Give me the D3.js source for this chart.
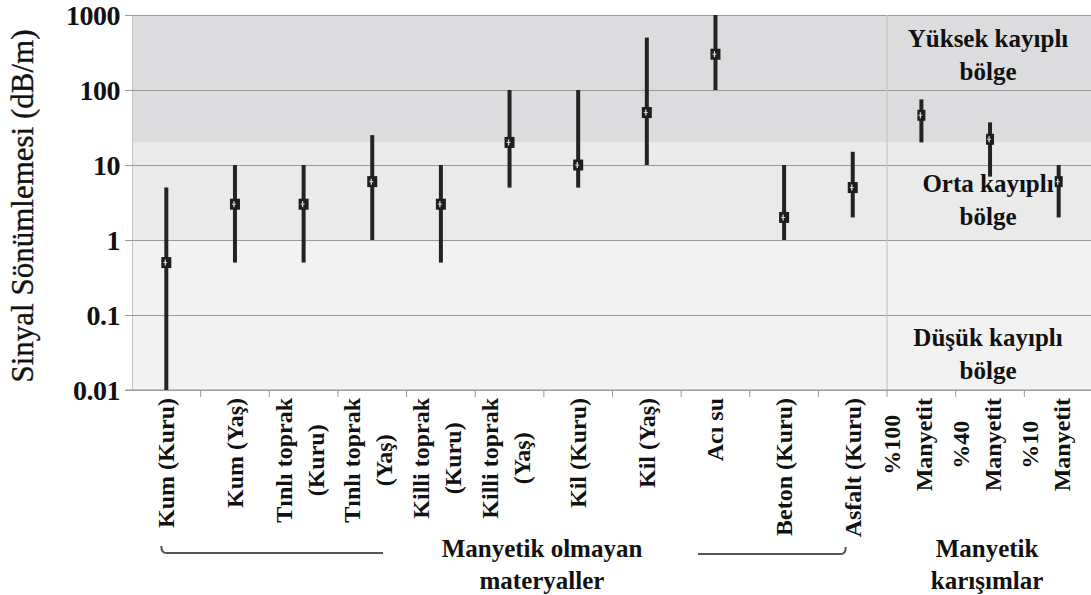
<!DOCTYPE html>
<html>
<head>
<meta charset="utf-8">
<script src="https://cdn.jsdelivr.net/npm/d3@7"></script>
<style>
  html, body { margin: 0; padding: 0; background: #fff; }
  svg { display: block; }
</style>
</head>
<body>
<svg id="chart" width="1091" height="595"></svg>
<script>
// Malzeme kategorileri (satır sonları "\n" ile)
const categories = [
  "Kum (Kuru)", "Kum (Yaş)", "Tınlı toprak\n(Kuru)", "Tınlı toprak\n(Yaş)",
  "Killi toprak\n(Kuru)", "Killi toprak\n(Yaş)", "Kil (Kuru)", "Kil (Yaş)",
  "Acı su", "Beton (Kuru)", "Asfalt (Kuru)",
  "%100\nManyetit", "%40\nManyetit", "%10\nManyetit"
];
// Tipik sönümleme değeri ve aralığın alt / üst sınırları (dB/m)
const typical = [0.5, 3, 3, 6, 3, 20, 10, 50, 300, 2, 5, 46, 22, 6];
const lowVals = [0.01, 0.5, 0.5, 1, 0.5, 5, 5, 10, 100, 1, 2, 20, 7, 2];
const highVals = [5, 10, 10, 25, 10, 100, 100, 500, 1000, 10, 15, 75, 37, 10];

// Y ekseni işaretleri
const yTicks = [0.01, 0.1, 1, 10, 100, 1000];
const yTickLabels = ["0.01", "0.1", "1", "10", "100", "1000"];

// Kayıp bölgeleri: sınırlar ve etiketler
const zoneBounds = [[0.01, 1], [1, 20], [20, 1000]];
const zoneFills = ["#f2f2f2", "#eaeaeb", "#dcdcde"];
const zoneLabels = [["Düşük kayıplı", "bölge"], ["Orta kayıplı", "bölge"], ["Yüksek kayıplı", "bölge"]];
const zoneLabelAt = [0.05, 5.7, 490];

// Grup etiketleri
const groupLabels = [["Manyetik olmayan", "materyaller"], ["Manyetik", "karışımlar"]];
const firstMagnetic = "%100\nManyetit";

const FONT = '"Liberation Serif", "Times New Roman", Tinos, serif';
const serif = sel => sel.style("font-family", FONT).style("fill", "#111");

const svg = d3.select("#chart");
const W = 1091;
const plotLeft = 132, plotTop = 15, plotBottom = 390, plotRight = 1093;

const y = d3.scaleLog().domain([0.01, 1000]).range([plotBottom, plotTop]);
const x = d3.scaleBand().domain(categories).range([plotLeft, plotRight]).padding(0);
const cx = c => x(c) + x.bandwidth() / 2;
const magIndex = categories.indexOf(firstMagnetic);

// Bölge zeminleri
svg.append("g").selectAll("rect").data(zoneBounds).join("rect")
  .attr("x", plotLeft).attr("width", W - plotLeft)
  .attr("y", d => y(d[1])).attr("height", d => y(d[0]) - y(d[1]))
  .attr("fill", (d, i) => zoneFills[i]);

// Yatay ızgara çizgileri ve y ekseni
const yAxis = d3.axisLeft(y).tickValues(yTicks)
  .tickFormat((d, i) => yTickLabels[i]).tickSize(-(W - plotLeft)).tickPadding(12);
const gy = svg.append("g").attr("transform", `translate(${plotLeft},0)`).call(yAxis);
gy.select(".domain").attr("stroke", "#c4c4c4");
gy.selectAll(".tick line").attr("stroke", "#9a9a9a").attr("x1", -7);
gy.selectAll(".tick text").call(serif)
  .style("font-weight", "bold").style("font-size", "28px")
  .attr("letter-spacing", "-0.5px").attr("dy", "0.34em");

// Grup ayırıcı dikey çizgi
const divX = x(firstMagnetic);
svg.append("line").attr("x1", divX).attr("x2", divX).attr("y1", plotTop).attr("y2", plotBottom)
  .attr("stroke", "#c6c6c6").attr("stroke-width", 1.2);

// X ekseni: bant sınırlarında kısa işaretler
const gx = svg.append("g").attr("transform", `translate(0,${plotBottom})`);
gx.append("line").attr("x1", plotLeft - 7).attr("x2", W).attr("stroke", "#9a9a9a");
gx.selectAll("line.tk").data(categories.slice(1)).join("line").attr("class", "tk")
  .attr("x1", d => x(d)).attr("x2", d => x(d)).attr("y1", 0).attr("y2", 7)
  .attr("stroke", "#9a9a9a");

// Kategori etiketleri (dikey, çok satırlı)
categories.forEach((c, i) => {
  const lines = c.split("\n");
  const shift = lines.length > 1 ? (i >= magIndex ? -21 : -12) : 8;
  const g = svg.append("g")
    .attr("transform", `translate(${cx(c) + shift},${plotBottom + 8}) rotate(-90)`);
  const t = g.append("text").call(serif).style("font-weight", "bold").style("font-size", "24px");
  lines.forEach((l, k) => t.append("tspan").attr("x", 0).attr("dy", k === 0 ? 0 : 32).text(l));
  if (lines.length > 1) {
    const maxLen = d3.max(t.selectAll("tspan").nodes(), n => n.getComputedTextLength());
    t.attr("text-anchor", "middle").selectAll("tspan").attr("x", -maxLen / 2);
  } else {
    t.attr("text-anchor", "end");
  }
});

// Aralık çubukları
const marks = svg.append("g");
categories.forEach((c, i) => {
  marks.append("line")
    .attr("x1", cx(c)).attr("x2", cx(c))
    .attr("y1", y(lowVals[i])).attr("y2", y(highVals[i]))
    .attr("stroke", "#232323").attr("stroke-width", 4);
});
// Tipik değer işaretçileri
categories.forEach((c, i) => {
  const px = cx(c), py = y(typical[i]);
  const w = i >= magIndex ? 8 : 10, h = 11;
  marks.append("rect").attr("x", px - w / 2).attr("y", py - h / 2)
    .attr("width", w).attr("height", h).attr("fill", "#1e1e1e");
  marks.append("line").attr("x1", px - 1).attr("x2", px - 1).attr("y1", py - 3).attr("y2", py + 3)
    .attr("stroke", "#d8d8d8").attr("stroke-width", 1.3);
  marks.append("line").attr("x1", px - 3).attr("x2", px + 1).attr("y1", py).attr("y2", py)
    .attr("stroke", "#d8d8d8").attr("stroke-width", 1);
});

// Bölge etiketleri
const zoneX = (divX + plotRight) / 2 - 2;
zoneLabels.forEach((lines, i) => {
  const t = svg.append("text").call(serif).attr("text-anchor", "middle")
    .style("font-weight", "bold").style("font-size", "25px")
    .attr("x", zoneX).attr("y", y(zoneLabelAt[i]));
  lines.forEach((l, k) => t.append("tspan").attr("x", zoneX).attr("dy", k === 0 ? "0.35em" : 33).text(l));
});

// Y ekseni başlığı
svg.append("text").call(serif)
  .attr("transform", `translate(33,206) rotate(-90)`)
  .attr("text-anchor", "middle").style("font-size", "31px")
  .style("stroke", "#111").style("stroke-width", "0.35px")
  .text("Sinyal Sönümlemesi (dB/m)");

// Grup etiketleri ve köşeli ayraçlar
const groupX = [542, (divX + plotRight) / 2 - 3];
groupLabels.forEach((lines, i) => {
  const t = svg.append("text").call(serif).attr("text-anchor", "middle")
    .style("font-weight", "bold").style("font-size", "25px");
  lines.forEach((l, k) => t.append("tspan").attr("x", groupX[i]).attr("y", 557 + k * 32).text(l));
});
const c0 = cx(categories[0]), cA = cx("Asfalt (Kuru)");
svg.append("path").attr("fill", "none").attr("stroke", "#555").attr("stroke-width", 2)
  .attr("d", `M383,553 H${c0} Q${c0 - 5},553 ${c0 - 5},546`);
svg.append("path").attr("fill", "none").attr("stroke", "#555").attr("stroke-width", 2)
  .attr("d", `M698,554 H${cA - 12} Q${cA - 7},554 ${cA - 7},547`);
</script>
</body>
</html>
